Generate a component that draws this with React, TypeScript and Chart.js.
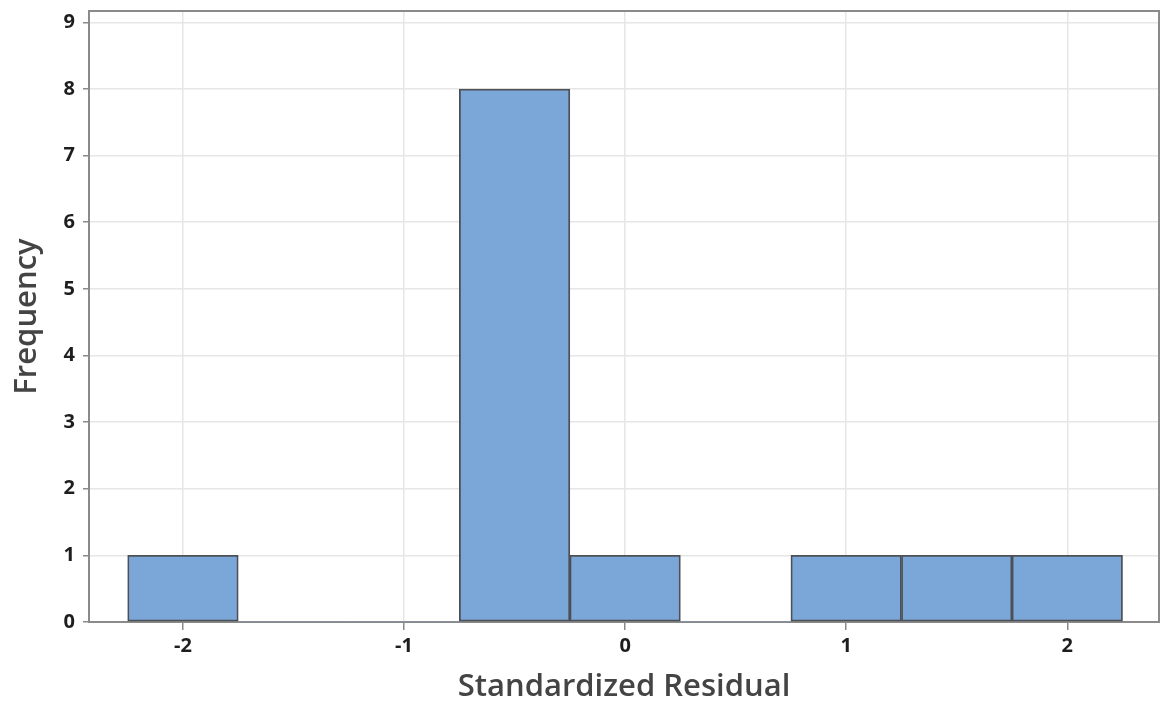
import React, { useEffect, useRef } from "react";
import { Chart, registerables } from "chart.js";

Chart.register(...registerables);

// Histogram bins (centre of each 0.5-wide bin) and their counts
const binCenters = [-2, -1.5, -1, -0.5, 0, 0.5, 1, 1.5, 2];
const frequencies = [1, 0, 0, 8, 1, 0, 1, 1, 1];
const xTickValues = [-2, -1, 0, 1, 2];
const yTickValues = [0, 1, 2, 3, 4, 5, 6, 7, 8, 9];
const xTitle = "Standardized Residual";
const yTitle = "Frequency";

const W = 1161;
const H = 707;
const FONT = "'Open Sans', 'Noto Sans', sans-serif";

// Draws the grey box around the plotting area
const frameBox = {
  id: "frameBox",
  beforeDatasetsDraw(chart: any) {
    const { ctx, chartArea } = chart;
    ctx.save();
    ctx.strokeStyle = "#8a8a8a";
    ctx.lineWidth = 2;
    ctx.strokeRect(
      chartArea.left,
      chartArea.top,
      chartArea.right - chartArea.left,
      chartArea.bottom - chartArea.top
    );
    ctx.restore();
  },
};

export default function App() {
  const canvasRef = useRef<HTMLCanvasElement | null>(null);

  useEffect(() => {
    if (!canvasRef.current) return;
    const chart = new Chart(canvasRef.current, {
      type: "bar",
      data: {
        datasets: [
          {
            data: binCenters.map((x, i) => ({ x, y: frequencies[i] })),
            backgroundColor: "#7ba6d8",
            borderColor: "#4c5055",
            borderWidth: (c: any) => (c.raw && c.raw.y > 0 ? 1.8 : 0),
            borderSkipped: false,
            barPercentage: 1,
            categoryPercentage: 1,
          },
        ],
      },
      plugins: [frameBox],
      options: {
        responsive: false,
        animation: false,
        layout: { padding: { top: 11, right: 2, left: 0, bottom: 0 } },
        plugins: {
          legend: { display: false },
          tooltip: { enabled: false },
        },
        scales: {
          x: {
            type: "linear",
            offset: false,
            min: -2.425,
            max: 2.415,
            afterBuildTicks: (s: any) => {
              s.ticks = xTickValues.map((v) => ({ value: v }));
            },
            afterFit: (s: any) => {
              s.height = 85;
              s.paddingLeft = 0;
              s.paddingRight = 0;
            },
            grid: {
              offset: false,
              color: "#e6e6e6",
              lineWidth: 1.5,
              tickColor: "#8a8a8a",
              tickLength: 8,
            },
            border: { display: false },
            ticks: {
              color: "#1e1e1e",
              padding: 4,
              maxRotation: 0,
              font: { family: FONT, size: 20, weight: "700" },
              callback: (v: any) => String(v),
            },
            title: {
              display: true,
              text: xTitle,
              color: "#444444",
              font: { family: FONT, size: 31, weight: "600" },
              padding: { top: 0, bottom: 1 },
            },
          },
          y: {
            type: "linear",
            min: 0,
            max: 9.17,
            afterBuildTicks: (s: any) => {
              s.ticks = yTickValues.map((v) => ({ value: v }));
            },
            afterFit: (s: any) => {
              s.width = 89;
              s.paddingTop = 0;
              s.paddingBottom = 0;
            },
            grid: {
              color: "#e6e6e6",
              lineWidth: 1.5,
              tickColor: "#8a8a8a",
              tickLength: 6,
            },
            border: { display: false },
            ticks: {
              color: "#1e1e1e",
              padding: 8,
              font: { family: FONT, size: 20, weight: "700" },
              callback: (v: any) => String(v),
            },
            title: {
              display: true,
              text: yTitle,
              color: "#444444",
              font: { family: FONT, size: 31, weight: "600" },
              padding: { top: 9, bottom: 0 },
            },
          },
        },
      },
    } as any);
    return () => chart.destroy();
  }, []);

  return (
    <div style={{ position: "fixed", left: 0, top: 0, width: W, height: H, background: "#ffffff" }}>
      <canvas ref={canvasRef} width={W} height={H} style={{ display: "block" }} />
    </div>
  );
}
